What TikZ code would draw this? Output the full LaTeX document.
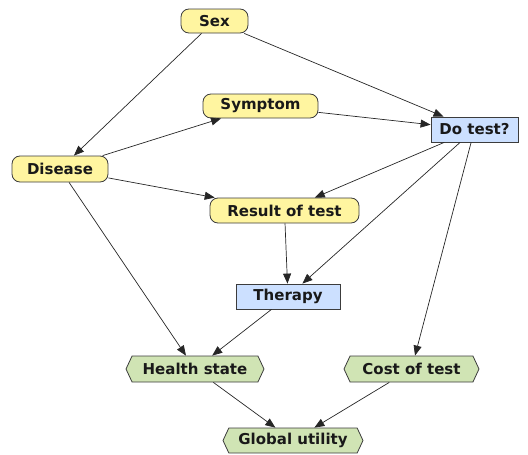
\documentclass[tikz,border=0pt]{standalone}
\usepackage{fontspec}
\setmainfont{DejaVu Sans}
\usetikzlibrary{arrows.meta,shapes.symbols}
\definecolor{chancefill}{RGB}{255,245,160}
\definecolor{decisionfill}{RGB}{204,224,255}
\definecolor{utilityfill}{RGB}{208,228,180}
\definecolor{edgegray}{RGB}{60,60,60}
\tikzset{
  base/.style={draw=edgegray, line width=0.8pt, inner sep=0pt, font=\fontsize{15}{17}\selectfont\bfseries, text=black!90},
  chance/.style={base, fill=chancefill, rounded corners=8pt},
  decision/.style={base, fill=decisionfill},
  utility/.style={base, fill=utilityfill, shape=signal, signal to=west and east, signal pointer angle=130},
  link/.style={draw=black!85, line width=0.7pt, -{Triangle[length=10pt,width=8pt]}}
}
\begin{document}
\begin{tikzpicture}[x=1pt,y=-1pt]
\useasboundingbox (0,0) rectangle (528,455);
% chance variables
\node[chance, minimum width=67pt, minimum height=24pt] (sex) at (214.5,21) {Sex};
\node[chance, minimum width=115pt, minimum height=24pt] (symptom) at (260.5,106) {Symptom};
\node[chance, minimum width=96pt, minimum height=26pt] (disease) at (60,169) {Disease};
\node[chance, minimum width=149pt, minimum height=25pt] (result) at (284.5,210.5) {Result of test};
% decisions
\node[decision, minimum width=87pt, minimum height=25pt] (dotest) at (474.5,129.5) {Do test?};
\node[decision, minimum width=104pt, minimum height=25pt] (therapy) at (288,296.5) {Therapy};
% utilities
\node[utility, minimum width=138pt, minimum height=26pt] (health) at (195,369) {Health state};
\node[utility, minimum width=135pt, minimum height=26pt] (cost) at (411.5,369) {Cost of test};
\node[utility, minimum width=140pt, minimum height=25pt] (global) at (293,440.5) {Global utility};
% links
\draw[link] (sex) -- (dotest);
\draw[link] (sex) -- (disease);
\draw[link] (disease) -- (symptom);
\draw[link] (symptom) -- (dotest);
\draw[link] (disease) -- (result);
\draw[link] (dotest) -- (result);
\draw[link] (dotest) -- (therapy);
\draw[link] (dotest) -- (cost);
\draw[link] (result) -- (therapy);
\draw[link] (disease) -- (health);
\draw[link] (therapy) -- (health);
\draw[link] (health) -- (global);
\draw[link] (cost) -- (global);
\end{tikzpicture}
\end{document}
